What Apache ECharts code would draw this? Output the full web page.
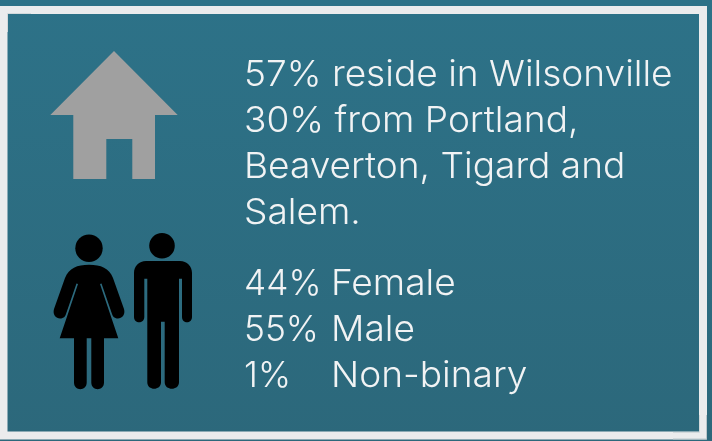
<!DOCTYPE html>
<html>
<head>
<meta charset="utf-8">
<style>
  html, body { margin: 0; padding: 0; background: #2d6f85; }
  #chart { width: 712px; height: 441px; }
</style>
<script src="https://cdn.jsdelivr.net/npm/echarts@6/dist/echarts.min.js"></script>
</head>
<body>
<div id="chart"></div>
<script>
  var residenceLines = ['57% reside in Wilsonville', '30% from Portland,', 'Beaverton, Tigard and', 'Salem.'];
  var genderShares = ['44%', '55%', '1%'];
  var genderLabels = ['Female', 'Male', 'Non-binary'];

  var textFont = '300 36px Inter';
  var ink = '#f1f3f4';

  function textItem(str, x, y, stretch) {
    return {
      type: 'text', x: x, y: y, scaleX: stretch,
      style: { text: str, font: textFont, fill: ink, textVerticalAlign: 'middle', textAlign: 'left' }
    };
  }

  var woman = 'M89 264.7 C101 264.7 109 268 113 278 L124 309 C126 316 120 320 115.5 318 C113 317 112.5 315.5 112 314 L101.5 283.5 L100 284 L118.3 338.3 L104 338.3 L104 382.6 C104 391.5 91.3 391.5 91.3 382.6 L91.3 338.3 L86.7 338.3 L86.7 382.6 C86.7 391.5 74 391.5 74 382.6 L74 338.3 L59.7 338.3 L78 284 L76.5 283.5 L66 314 C65.5 315.5 65 317 62.5 318 C58 320 52 316 54 309 L65 278 C69 268 77 264.7 89 264.7 Z';
  var man = 'M146 261 L180 261 C187 261 192 266 192 273 L192 317 C192 324 182 324 182 317 L182 278.7 L179 278.7 L179 382.3 C179 391 164.7 391 164.7 382.3 L164.7 321.7 L161 321.7 L161 382.3 C161 391 147.3 391 147.3 382.3 L147.3 278.7 L144.3 278.7 L144.3 317 C144.3 324 134 324 134 317 L134 273 C134 266 139 261 146 261 Z';

  // graphic has no plain path type, so the two figures are registered as shapes
  echarts.graphic.registerShape('womanIcon', echarts.graphic.extendPath(woman, {}));
  echarts.graphic.registerShape('manIcon', echarts.graphic.extendPath(man, {}));

  var elements = [
    // page and frame
    { type: 'rect', shape: { x: 0, y: 0, width: 712, height: 441 },
      style: { fill: new echarts.graphic.LinearGradient(0, 0, 0, 1, [
        { offset: 0, color: '#2d7288' }, { offset: 1, color: '#2c687b' }
      ]) } },
    { type: 'rect', shape: { x: 3.5, y: 10, width: 699.5, height: 425.5 },
      style: { fill: 'none', stroke: '#ebeced', lineWidth: 8 } },
    // faint seams at the frame corners
    { type: 'polyline', shape: { points: [[31, 13.5], [7.5, 13.5], [7.5, 32]] },
      style: { fill: 'none', stroke: '#d3d9db', lineWidth: 1 } },
    { type: 'polyline', shape: { points: [[706.5, 415], [706.5, 439], [673, 439]] },
      style: { fill: 'none', stroke: '#bcc8cc', lineWidth: 1 } },
    { type: 'polyline', shape: { points: [[699.5, 415], [699.5, 432.5], [673, 432.5]] },
      style: { fill: 'none', stroke: '#d3d9db', lineWidth: 1 } },
    // house
    { type: 'polygon',
      shape: { points: [[114, 51], [177.7, 115], [155, 115], [155, 179], [132.3, 179], [132.3, 139], [106.3, 139], [106.3, 179], [73.3, 179], [73.3, 115], [50.3, 115]] },
      style: { fill: '#a0a0a0' } },
    // people
    { type: 'circle', shape: { cx: 89, cy: 248.3, r: 13.7 }, style: { fill: '#000' } },
    { type: 'womanIcon', style: { fill: '#000' } },
    { type: 'circle', shape: { cx: 162, cy: 245.7, r: 12.8 }, style: { fill: '#000' } },
    { type: 'manIcon', style: { fill: '#000' } }
  ];

  residenceLines.forEach(function (line, i) {
    elements.push(textItem(line, 244, 75.5 + i * 45.8, 1.03));
  });
  genderShares.forEach(function (share, i) {
    elements.push(textItem(share, 244, 284.5 + i * 45.8, 0.98));
    elements.push(textItem(genderLabels[i], 331, 284.5 + i * 45.8, 1.03));
  });

  var chart = echarts.init(document.getElementById('chart'), null, { renderer: 'canvas' });
  chart.setOption({
    animation: false,
    graphic: { elements: elements }
  });
</script>
</body>
</html>
